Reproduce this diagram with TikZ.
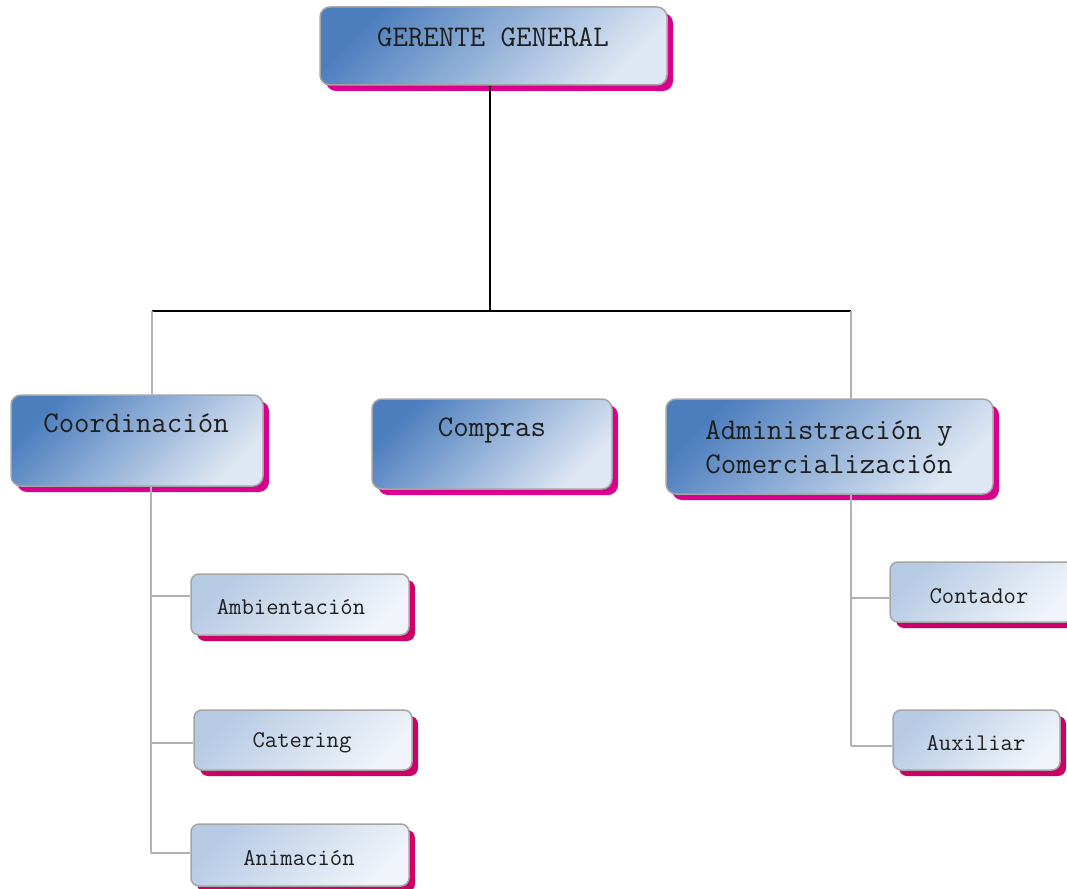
\documentclass[tikz,border=0pt]{standalone}
\usepackage{fontspec}
\usetikzlibrary{positioning, calc, shadows}
\definecolor{boxdark}{RGB}{76,126,190}
\definecolor{boxlight}{RGB}{222,231,243}
\definecolor{subdark}{RGB}{182,202,228}
\definecolor{sublight}{RGB}{240,244,250}
\definecolor{shadowpink}{RGB}{216,0,140}
\definecolor{shadowred}{RGB}{204,0,102}
\definecolor{edgegray}{RGB}{165,165,165}
\definecolor{linegray}{RGB}{178,178,178}
\definecolor{textgray}{RGB}{30,30,30}

\begin{document}
\begin{tikzpicture}[x=1pt, y=-1pt,
  mainbox/.style={draw=edgegray, line width=1.5pt, rounded corners=10pt,
    top color=boxdark, bottom color=boxlight, shading angle=45,
    drop shadow={shadow xshift=6pt, shadow yshift=-6pt, fill=shadowpink, opacity=1},
    inner sep=0pt},
  subbox/.style={draw=edgegray, line width=1.5pt, rounded corners=8pt,
    top color=subdark, bottom color=sublight, shading angle=45,
    drop shadow={shadow xshift=6pt, shadow yshift=-6pt, fill=shadowred, opacity=1},
    inner sep=0pt, minimum height=60pt},
  maintext/.style={font=\ttfamily\fontsize{30}{34}\selectfont, text=textgray, align=center, inner sep=0pt},
  subtext/.style={font=\ttfamily\fontsize{24}{28}\selectfont, text=textgray, inner sep=0pt},
  busline/.style={line width=1.5pt, black},
  branchline/.style={line width=2pt, linegray}]
  \useasboundingbox (0,0) rectangle (1067,888);

  % Level 0
  \node[mainbox, minimum width=347pt, minimum height=78pt] (gg) at (493.5,46) {};
  \node[maintext] (ggtext) at (493,37) {GERENTE GENERAL};

  % Level 1
  \node[mainbox, minimum width=252pt, minimum height=91pt] (coord) at (137,440.5) {};
  \node[maintext] (coordtext) at (136,423) {Coordinación};
  \node[mainbox, minimum width=240pt, minimum height=90pt] (comp) at (492,444) {};
  \node[maintext] (comptext) at (492,430) {Compras};
  \node[mainbox, minimum width=327pt, minimum height=95pt] (admin) at (829.5,446.5) {};
  \node[maintext] (admintext) at (829,447) {Administración y\\Comercialización};

  % Level 2
  \node[subbox, minimum width=218pt, minimum height=61pt] (amb) at (300,604.5) {};
  \node[subtext] (ambtext) at (291,607) {Ambientación};
  \node[subbox, minimum width=218pt] (cat) at (303,740) {};
  \node[subtext] (cattext) at (302,743) {Catering};
  \node[subbox, minimum width=218pt, minimum height=62pt] (ani) at (300,855) {};
  \node[subtext] (anitext) at (299,858) {Animación};
  \node[subbox, minimum width=184pt] (cont) at (982,592) {};
  \node[subtext] (conttext) at (979,596) {Contador};
  \node[subbox, minimum width=167pt] (aux) at (976.5,740) {};
  \node[subtext] (auxtext) at (976,743) {Auxiliar};

  % Bus
  \coordinate (ggjoin) at (490,311);
  \coordinate (busleft) at (152,311);
  \coordinate (busright) at (851,311);
  \draw[busline] (gg.south -| ggjoin) -- (ggjoin);
  \draw[busline] (busleft) -- (busright);
  \draw[branchline] (busleft) -- (busleft |- coord.north);
  \draw[branchline] (busright) -- (busright |- admin.north);

  % Coordinación branches
  \coordinate (ambjoin) at (151,596);
  \coordinate (catjoin) at (151,743);
  \coordinate (anijoin) at (151,853);
  \draw[branchline] (coord.south -| ambjoin) -- (anijoin);
  \draw[branchline] (ambjoin) -- (ambjoin -| amb.west);
  \draw[branchline] (catjoin) -- (catjoin -| cat.west);
  \draw[branchline] (anijoin) -- (anijoin -| ani.west);

  % Administración branches
  \coordinate (contjoin) at (851,598);
  \coordinate (auxjoin) at (851,746);
  \draw[branchline] (admin.south -| contjoin) -- (auxjoin);
  \draw[branchline] (contjoin) -- (contjoin -| cont.west);
  \draw[branchline] (auxjoin) -- (auxjoin -| aux.west);
\end{tikzpicture}
\end{document}
